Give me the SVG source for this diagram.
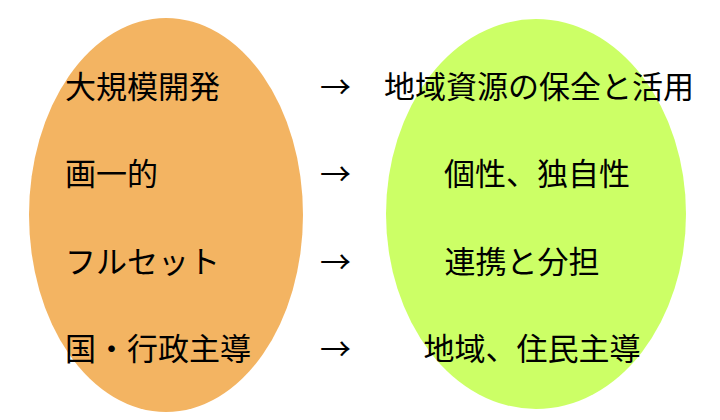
<svg xmlns="http://www.w3.org/2000/svg" width="720" height="420" viewBox="0 0 720 420">
<style>
text{font-family:"Noto Sans CJK JP","Noto Sans CJK SC",sans-serif;font-size:31px;fill:#000}
.r{text-anchor:middle}
</style>
<rect width="720" height="420" fill="#fff"/>
<g id="left"><ellipse cx="166" cy="215" rx="137" ry="197" fill="#F3B462"/></g>
<g id="right"><ellipse cx="536" cy="214" rx="150" ry="195" fill="#CCFF66"/></g>
<g id="labels-left">
<text x="65" y="98">大規模開発</text>
<text x="65" y="185">画一的</text>
<text x="65" y="273">フルセット</text>
<text x="65" y="360">国・行政主導</text>
</g>
<g id="connectors">
<text x="320" y="98">→</text>
<text x="320" y="185">→</text>
<text x="320" y="273">→</text>
<text x="320" y="360">→</text>
</g>
<g id="labels-right">
<text class="r" x="539" y="98">地域資源の保全と活用</text>
<text class="r" x="537" y="185">個性、独自性</text>
<text class="r" x="522" y="273">連携と分担</text>
<text class="r" x="532" y="360">地域、住民主導</text>
</g>
</svg>
